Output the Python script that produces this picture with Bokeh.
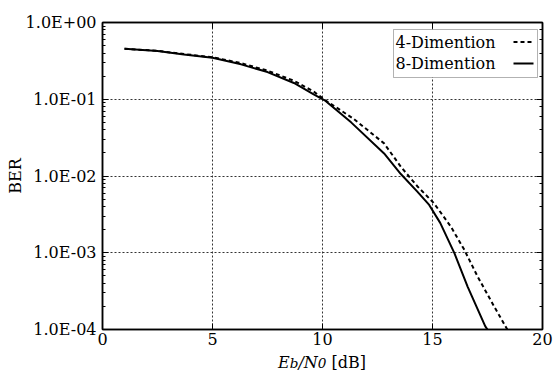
from bokeh.plotting import figure
from bokeh.models import (LinearAxis, LogAxis, CustomJSTickFormatter, Label,
                          BoxAnnotation, Arrow, FixedTicker, Range1d, Div)
from bokeh.layouts import column
from bokeh.embed import file_html
from bokeh.resources import INLINE

# ---- data ----
ebn0_4d = [1, 2.5, 3.7, 5, 6.3, 7.5, 8.7, 9.6, 10.2, 11.4, 12.8, 13.56, 14.32,
           15.07, 15.83, 16.44, 17.05, 17.8, 18.4]
ber_4d = [0.455, 0.427, 0.388, 0.353, 0.295, 0.236, 0.174, 0.126, 0.094, 0.056,
          0.0266, 0.0132, 0.0073, 0.0044, 0.0022, 0.0011, 0.00049, 0.0002, 0.0001]
ebn0_8d = [1, 2.5, 3.7, 5, 6.3, 7.5, 8.7, 9.6, 10.1, 11.3, 12.8, 13.56, 14.3,
           14.85, 15.35, 16.0, 16.6, 17.4, 17.5]
ber_8d = [0.455, 0.425, 0.384, 0.348, 0.285, 0.226, 0.163, 0.116, 0.097, 0.050,
          0.0197, 0.0106, 0.0063, 0.0042, 0.00245, 0.00098, 0.00036, 0.00011, 0.0001]
x_ticks = [0, 5, 10, 15, 20]
series_labels = ["4-Dimention", "8-Dimention"]
y_label = "BER"

FONT = "DejaVu Serif"
FS = "16px"

p = figure(width=555, height=352, y_axis_type="log",
           x_range=Range1d(0, 20), y_range=Range1d(1e-4, 1),
           output_backend="svg", toolbar_location=None,
           min_border_left=102, min_border_right=13,
           min_border_top=22, min_border_bottom=23)

p.outline_line_color = "black"
p.outline_line_width = 1.5
p.background_fill_color = "white"
p.border_fill_color = "white"

fmt = CustomJSTickFormatter(code="""
const e = Math.round(Math.log10(tick));
const s = e < 0 ? '-' : '+';
const a = Math.abs(e);
return '1.0E' + s + (a < 10 ? '0' : '') + a;
""")

# main axes
xa = p.xaxis[0]
xa.ticker = FixedTicker(ticks=x_ticks)
ya = p.yaxis[0]
ya.formatter = fmt
ya.axis_label = y_label
ya.axis_label_standoff = -2
ya.axis_label_text_font_style = "normal"

for ax in (xa, ya):
    ax.axis_line_color = "black"
    ax.axis_line_width = 1.5
    ax.major_tick_in = 6
    ax.major_tick_out = 0
    ax.minor_tick_in = 3
    ax.minor_tick_out = 0
    ax.major_tick_line_color = "black"
    ax.minor_tick_line_color = "black"
    ax.major_label_text_font = FONT
    ax.major_label_text_font_size = FS
    ax.major_label_text_color = "black"
    ax.axis_label_text_font = FONT
    ax.axis_label_text_font_size = FS
    ax.axis_label_text_color = "black"
xa.minor_tick_line_color = None
xa.major_label_standoff = 3
ya.major_label_standoff = 6

# mirrored axes (ticks only)
blank = CustomJSTickFormatter(code="return '';")
ra = LogAxis(formatter=blank)
ta = LinearAxis(ticker=FixedTicker(ticks=x_ticks), formatter=blank)
for ax in (ra, ta):
    ax.axis_line_color = "black"
    ax.axis_line_width = 1.5
    ax.major_tick_in = 6
    ax.major_tick_out = 0
    ax.minor_tick_in = 3
    ax.minor_tick_out = 0
    ax.major_label_standoff = 0
ta.minor_tick_line_color = None
p.add_layout(ra, "right")
p.add_layout(ta, "above")

# grid
p.xgrid.ticker = FixedTicker(ticks=x_ticks)
for g in (p.xgrid[0], p.ygrid[0]):
    g.grid_line_color = "#333333"
    g.grid_line_dash = "2 2"
    g.grid_line_width = 1

# series
p.line(ebn0_4d, ber_4d, line_color="black", line_width=2, line_dash="4 3")
p.line(ebn0_8d, ber_8d, line_color="black", line_width=2)

# legend (text left, sample right)
p.add_layout(BoxAnnotation(left=291, right=435, bottom=252, top=300,
                           left_units="screen", right_units="screen",
                           top_units="screen", bottom_units="screen",
                           fill_color="white", fill_alpha=1,
                           line_color="black", line_width=1))
for i, (lab, dash) in enumerate(zip(series_labels, ["4 3", "solid"])):
    yy = 287.5 - i * 21.5
    p.add_layout(Label(x=293, y=yy, x_units="screen", y_units="screen",
                       text=lab, text_font=FONT, text_font_size=FS,
                       text_baseline="middle", text_color="black"))
    p.add_layout(Arrow(end=None, x_start=411, y_start=yy, x_end=431, y_end=yy,
                       start_units="screen", end_units="screen",
                       line_color="black", line_width=2, line_dash=dash))

# x axis title with mixed styling
xlabel = Div(
    text=("<div style=\"font-family:'DejaVu Serif',serif;font-size:16px;"
          "line-height:16px;padding-top:3px;padding-left:278px;color:black\">"
          "<i>E<span style='font-size:85%'>b</span>/N"
          "<span style='font-size:85%'>0</span></i> [dB]</div>"),
    width=555, height=20, margin=(0, 0, 0, 0),
    styles={"background-color": "white"})

layout = column(p, xlabel, spacing=0)
open("out.html", "w").write(file_html(layout, INLINE))
